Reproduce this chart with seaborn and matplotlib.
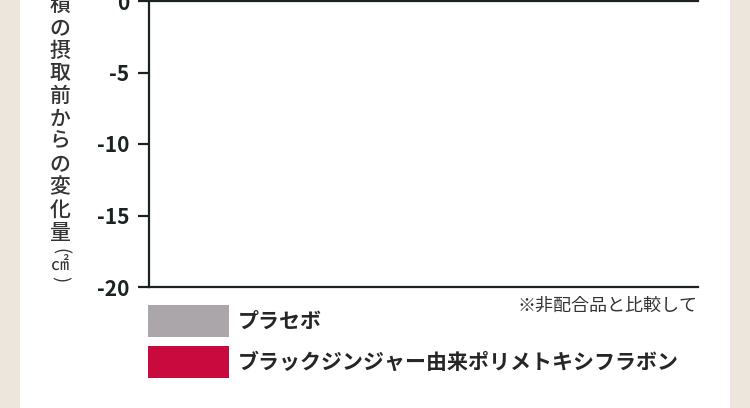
import matplotlib
matplotlib.use("Agg")
import matplotlib.pyplot as plt
import seaborn as sns
from matplotlib.patches import Patch, Rectangle

# data
groups = ["プラセボ", "ブラックジンジャー由来ポリメトキシフラボン"]
group_colors = ["#ABA6A9", "#C90A3F"]
changes = [0.0, 0.0]  # bars lie outside the visible crop
y_ticks = [0, -5, -10, -15, -20]
ylabel_chars = ["積", "の", "摂", "取", "前", "か", "ら", "の", "変", "化", "量"]
ylabel_unit = ["(", "㎠", ")"]
note = "※非配合品と比較して"

sns.set_theme(style="white")
plt.rcParams["font.family"] = ["Noto Sans CJK JP", "DejaVu Sans"]

W, H = 750, 408
fig = plt.figure(figsize=(W / 100, H / 100), dpi=100)
fig.patch.set_facecolor("#EDE6DC")

# white panel over the marble background
fig.patches.append(Rectangle((20 / W, 0), 710 / W, 1, transform=fig.transFigure,
                             facecolor="white", edgecolor="none", zorder=-5))

ink = "#1A2222"
ax = fig.add_axes([149 / W, 1 - 287 / H, 549 / W, 286 / H])
ax.set_zorder(2)
ax.set_facecolor("none")
sns.barplot(x=groups, y=changes, hue=groups, palette=group_colors,
            legend=False, ax=ax, width=0.5)
ax.set_ylim(-20, 0)
ax.set_yticks(y_ticks)
ax.set_yticklabels([str(t) for t in y_ticks], fontsize=15, fontweight="bold", color=ink)
ax.set_xticks([])
ax.set_xlabel("")
ax.set_ylabel("")
for side in ["top", "bottom", "left"]:
    ax.spines[side].set_visible(True)
    ax.spines[side].set_color(ink)
    ax.spines[side].set_linewidth(1.6)
ax.spines["right"].set_visible(False)
ax.tick_params(axis="y", direction="out", length=8, width=1.6, color=ink, pad=6, left=True)
for sp in ax.spines.values():
    sp.set_clip_on(False)

# vertical y-axis label, one character per line
x_lab = 60 / W
for i, ch in enumerate(ylabel_chars):
    fig.text(x_lab, 1 - (5 + 22.8 * i) / H, ch, ha="center", va="center",
             fontsize=15, fontweight="medium", color="#333333")
for y_px, ch, rot in zip([251, 265, 279], ylabel_unit, [-90, 0, -90]):
    fig.text(x_lab, 1 - y_px / H, ch, ha="center", va="center", rotation=rot,
             rotation_mode="anchor", fontsize=13, color="#333333")

# legend
handles = [Patch(facecolor=c, edgecolor="none") for c in group_colors]
fig.legend(handles, groups, loc="upper left", bbox_to_anchor=(148 / W, 1 - 305 / H),
           frameon=False, borderpad=0, borderaxespad=0, handlelength=3.85,
           handleheight=1.95, handletextpad=0.45, labelspacing=0.45,
           prop={"weight": "bold", "size": 15.1})

fig.text(697 / W, 1 - 306 / H, note, ha="right", va="center", fontsize=13, color="#333333")

fig.savefig("out.png", dpi=100)
